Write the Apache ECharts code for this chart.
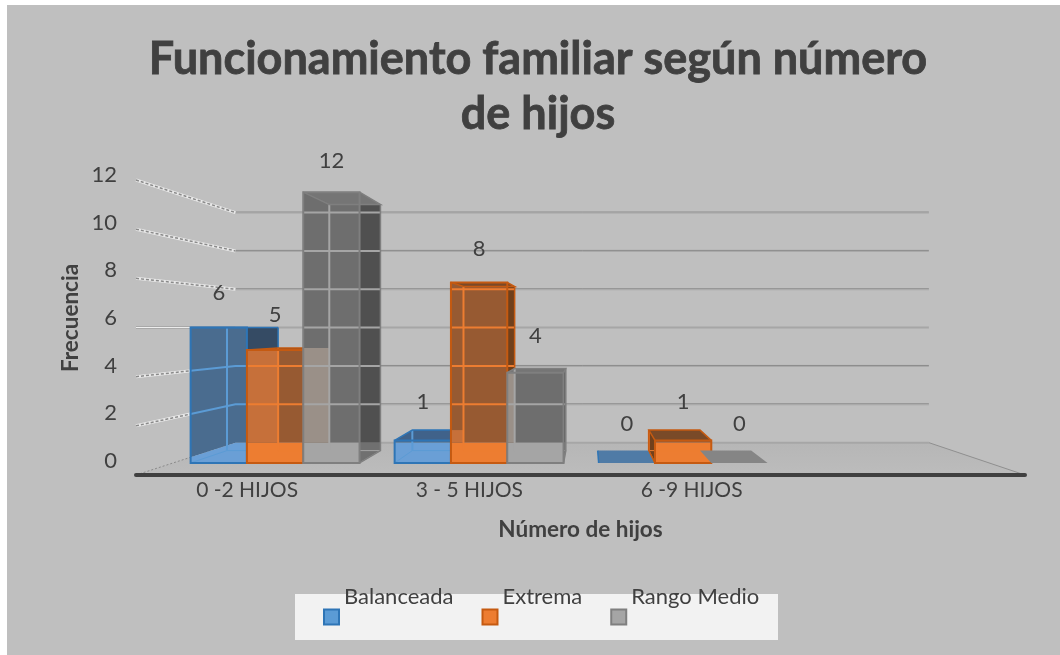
<!DOCTYPE html>
<html>
<head>
<meta charset="utf-8">
<title>Funcionamiento familiar</title>
<script src="https://cdn.jsdelivr.net/npm/echarts@6/dist/echarts.min.js"></script>
<style>
html,body{margin:0;padding:0;background:#fff;}
#chart{width:1060px;height:655px;}
</style>
</head>
<body>
<div id="chart"></div>
<script>
// datos
var categorias = ['0 -2 HIJOS', '3 - 5 HIJOS', '6 -9 HIJOS', ''];
var marcas = [0, 2, 4, 6, 8, 10, 12];
var balanceada = [6, 1, 0];
var extrema = [5, 8, 1];
var rangoMedio = [12, 4, 0];

var FUENTE = 'Lato';
var TEXTO = '#404040';

// perspectiva: punto de fuga y profundidad de cada plano
var VPX = 588, VPY = 328;
var S_FRENTE = 0.918, S_FONDO_BARRA = 0.834, S_PARED = 0.78, S_ETIQUETA = 0.89;
var ANCHO_BARRA = 0.276;

var colores = [
    {wall:'#4a6c8f', floor:'#6a9fd6', side:'#354b64', sideFloor:'#4a78a8', top:'#40628a', edge:'#2e75b6', line:'#5b9bd5', over:'#4a6c8f'},
    {wall:'#975a32', floor:'#ed7d31', side:'#70401c', sideFloor:'#a85a26', top:'#7a4a28', edge:'#c55a11', line:'#ed7d31', over:'#c6703a'},
    {wall:'#6e6e6e', floor:'#a5a5a5', side:'#505050', sideFloor:'#707070', top:'#757575', edge:'#7f7f7f', line:'#a5a5a5', over:'#9a9088'}
];
var topCero = ['#4f7ba6', '#7a4a28', '#858585'];
var valores = [balanceada, extrema, rangoMedio];

function px(x, s){ return VPX + (x - VPX) * s; }
function py(y, s){ return VPY + (y - VPY) * s; }

function poly(points, fill, z){
    return {type:'polygon', shape:{points:points}, style:{fill:fill}, z2:z || 0, silent:true};
}
function polyline(points, color, width, dash, z){
    return {type:'polyline', shape:{points:points}, style:{fill:null, stroke:color, lineWidth:width, lineDash:dash || null}, z2:z || 0, silent:true};
}

// borde superior del suelo en pantalla, para el x dado
function bordeSuelo(x, api){
    var c0 = api.coord([0, 0]);
    var band = api.size([1, 0])[0];
    var x0 = c0[0] - band / 2;
    var y0 = c0[1];
    var kx = px(x0, S_PARED), ky = py(y0, S_PARED);
    if (x >= kx) return {y:ky, kx:kx};
    return {y:y0 + (ky - y0) * (x - x0) / (kx - x0), kx:kx};
}

// paredes y suelo
function renderPared(params, api){
    var tick = api.value(0);
    var c = api.coord([0, tick]);
    var band = api.size([1, 0])[0];
    var x0 = c[0] - band / 2;
    var x1 = x0 + band * 4;
    var bx0 = px(x0, S_PARED), bx1 = px(x1, S_PARED), by = py(c[1], S_PARED);
    var hijos = [];
    if (tick === 0) {
        hijos.push({type:'polygon', shape:{points:[[x0, c[1]], [x1, c[1]], [bx1, by], [bx0, by]]},
            style:{fill:{type:'linear', x:0, y:0, x2:0, y2:1, colorStops:[{offset:0, color:'#b6b6b6'}, {offset:1, color:'#bcbcbc'}]}}, silent:true});
        hijos.push(polyline([[x1, c[1]], [bx1, by]], '#8f8f8f', 1));
    }
    var suave = tick === 6 || tick === 0;
    if (suave) {
        hijos.push(polyline([[bx0, by], [bx1, by]], '#a6a6a6', 2));
    } else {
        hijos.push(polyline([[bx0, by - 0.5], [bx1, by - 0.5]], '#8a8a8a', 1));
        hijos.push(polyline([[bx0, by + 0.5], [bx1, by + 0.5]], '#a8a8a8', 1));
    }
    if (tick === 0) {
        hijos.push(polyline([[x0, c[1]], [bx0, by]], '#8a8a8a', 1, [2, 2]));
    } else if (tick === 6) {
        hijos.push(polyline([[x0, c[1]], [bx0, by]], '#a0a0a0', 2.5));
        hijos.push(polyline([[x0, c[1]], [bx0, by]], '#efefef', 1));
    } else {
        hijos.push(polyline([[x0, c[1]], [bx0, by]], '#e8e8e8', 3));
        hijos.push(polyline([[x0, c[1]], [bx0, by]], '#8a8a8a', 1.5, [3, 2]));
    }
    return {type:'group', children:hijos};
}

// una barra 3D: plano frontal y plano trasero proyectados desde los ejes
function crearRender(idx){
    var col = colores[idx];
    return function(params, api){
        var cat = api.value(0), val = api.value(1);
        var base = api.coord([cat, 0]);
        var tope = api.coord([cat, val]);
        var band = api.size([1, 0])[0];
        var ancho = band * ANCHO_BARRA;
        var izq = base[0] + (idx - 1.5) * ancho;
        var der = izq + ancho;

        var fx0 = px(izq, S_FRENTE), fx1 = px(der, S_FRENTE);
        var fyT = py(tope[1], S_FRENTE), fyB = py(base[1], S_FRENTE);
        var bx0 = px(izq, S_FONDO_BARRA), bx1 = px(der, S_FONDO_BARRA);
        var byT = py(tope[1], S_FONDO_BARRA), byB = py(base[1], S_FONDO_BARRA);
        var hijos = [];

        // etiqueta de datos
        hijos.push({type:'text', z2:50, silent:true, style:{
            x:px(base[0] + (idx - 1) * ancho, S_FRENTE),
            y:py(tope[1], S_ETIQUETA) - 35,
            text:String(val), fill:TEXTO, font:'22px ' + FUENTE, align:'center', verticalAlign:'middle'
        }});

        if (val === 0) {
            hijos.push(poly([[fx0, fyB], [fx1, fyB], [bx1, byB], [bx0, byB]], topCero[idx]));
            if (idx === 0) hijos.push(polyline([[fx0, fyB], [bx0, byB]], col.edge, 1.5));
            return {type:'group', children:hijos};
        }

        var e0 = bordeSuelo(fx0, api), e1 = bordeSuelo(fx1, api);
        var kx = e0.kx, ky = bordeSuelo(kx, api).y;
        var y0 = Math.max(e0.y, fyT), y1 = Math.max(e1.y, fyT);
        var rodilla = fx0 < kx && kx < fx1;

        // cara lateral
        if (bx1 > fx1) {
            hijos.push(poly([[fx1, fyT], [bx1, byT], [bx1, ky], [fx1, ky]], col.side));
            hijos.push(poly([[fx1, ky], [bx1, ky], [bx1, byB], [fx1, fyB]], col.sideFloor));
        }
        if (bx0 < fx0) {
            hijos.push(poly([[bx0, byT], [fx0, fyT], [fx0, fyB], [bx0, byB]], col.side));
        }

        // cara frontal: parte sobre la pared y parte sobre el suelo
        var muro = [[fx0, fyT], [fx1, fyT], [fx1, y1]];
        var suelo = [[fx0, fyB], [fx1, fyB], [fx1, y1]];
        if (rodilla) { muro.push([kx, ky]); suelo.push([kx, ky]); }
        muro.push([fx0, y0]);
        suelo.push([fx0, y0]);
        hijos.push(poly(muro, col.wall));
        hijos.push(poly(suelo, col.floor));

        // zona que se cruza con la cara lateral de la barra vecina
        if (idx > 0) {
            var vecino = api.coord([cat, valores[idx - 1][cat]]);
            var vy = py(vecino[1], S_FONDO_BARRA);
            var oy = Math.max(fyT, vy);
            if (oy < ky && bx0 > fx0 && valores[idx - 1][cat] > 0) {
                hijos.push(poly([[fx0, oy], [bx0, oy], [bx0, ky], [fx0, ky]], col.over));
            }
        }

        // cara superior
        hijos.push(poly([[fx0, fyT], [fx1, fyT], [bx1, byT], [bx0, byT]], col.top));

        // lineas de la pared vistas a traves de la barra
        marcas.forEach(function(t){
            if (t === 0) return;
            var c = api.coord([0, t]);
            var wy = py(c[1], S_PARED);
            if (wy < Math.min(fyT, byT) + 2) return;
            var band0 = c[0] - band / 2;
            var pts = [];
            var fin = Math.max(fx1, bx1);
            var inicio = fx0;
            var yEn = function(x){
                if (x >= kx) return wy;
                return c[1] + (wy - c[1]) * (x - band0) / (kx - band0);
            };
            pts.push([inicio, yEn(inicio)]);
            if (inicio < kx && kx < fin) pts.push([kx, wy]);
            pts.push([fin, yEn(fin)]);
            hijos.push(polyline(pts, col.line, 2, null, 2));
        });

        // aristas traseras
        hijos.push(polyline([[bx0, byT], [bx0, byB]], col.line, 2, null, 2));
        hijos.push(polyline([[bx0, byB], [bx1, byB]], col.line, 1, null, 2));
        hijos.push(polyline([[fx0, fyB], [bx0, byB]], col.line, 1, null, 2));
        hijos.push(polyline([[fx1, fyB], [bx1, byB]], col.line, 1, null, 2));

        // aristas exteriores
        hijos.push(polyline([[fx0, fyT], [bx0, byT], [bx1, byT], [fx1, fyT]], col.edge, 1.5, null, 3));
        if (bx1 > fx1) hijos.push(polyline([[bx1, byT], [bx1, byB], [fx1, fyB]], col.edge, 1.5, null, 3));
        if (bx0 < fx0) hijos.push(polyline([[bx0, byT], [bx0, byB], [fx0, fyB]], col.edge, 1.5, null, 3));
        hijos.push({type:'rect', shape:{x:fx0, y:fyT, width:fx1 - fx0, height:fyB - fyT},
            style:{fill:null, stroke:col.edge, lineWidth:2}, z2:4, silent:true});

        return {type:'group', children:hijos};
    };
}

function datosSerie(arr){
    return arr.map(function(v, i){ return [i, v]; });
}
function serieBarra(nombre, arr, idx){
    return {
        name:nombre, type:'custom', coordinateSystem:'cartesian2d',
        xAxisIndex:0, yAxisIndex:0, clip:false,
        renderItem:crearRender(idx), data:datosSerie(arr), z:5 + idx,
        itemStyle:{color:idx === 0 ? '#5b9bd5' : colores[idx].floor, borderColor:colores[idx].edge, borderWidth:2}
    };
}

var myChart = echarts.init(document.getElementById('chart'));
var option = {
    animation:false,
    backgroundColor:'#fff',
    textStyle:{fontFamily:FUENTE},
    title:{
        text:'Funcionamiento familiar según número\nde hijos',
        left:533, top:27, textAlign:'center',
        textStyle:{fontFamily:FUENTE, fontSize:45, fontWeight:'bold', color:TEXTO, lineHeight:55, textBorderColor:TEXTO, textBorderWidth:0.8}
    },
    graphic:[
        {type:'rect', z:-10, silent:true, shape:{x:7, y:5, width:1053, height:650}, style:{fill:'#bfbfbf'}},
        {type:'rect', z:-9, silent:true, shape:{x:295, y:594, width:483, height:46}, style:{fill:'#f2f2f2'}}
    ],
    legend:{
        left:323, top:577, itemWidth:15, itemHeight:15, itemGap:28, padding:0,
        icon:'rect', selectedMode:false,
        formatter:function(nombre){ return nombre + '\n '; },
        textStyle:{fontFamily:FUENTE, fontSize:22, color:TEXTO, lineHeight:40},
        data:['Balanceada', 'Extrema', 'Rango Medio']
    },
    grid:[
        {left:136, width:889, top:180, height:295},
        {left:125, width:1, top:175, height:286}
    ],
    xAxis:[
        {
            type:'category', gridIndex:0, data:categorias, z:20,
            axisTick:{show:false},
            axisLine:{lineStyle:{color:'#404040', width:4, cap:'round'}},
            axisLabel:{color:TEXTO, fontSize:21, fontFamily:FUENTE, margin:5, interval:0},
            name:'Número de hijos', nameLocation:'middle', nameGap:43,
            nameTextStyle:{color:TEXTO, fontSize:22.5, fontWeight:'bold', fontFamily:FUENTE}
        },
        {type:'category', gridIndex:1, data:categorias, show:false}
    ],
    yAxis:[
        {type:'value', gridIndex:0, min:0, max:12, interval:2, show:false},
        {
            type:'value', gridIndex:1, min:0, max:12, interval:2,
            axisLine:{show:false}, axisTick:{show:false}, splitLine:{show:false},
            axisLabel:{color:TEXTO, fontSize:22, fontFamily:FUENTE, margin:8},
            name:'Frecuencia', nameLocation:'middle', nameGap:43, nameRotate:90,
            nameTextStyle:{color:TEXTO, fontSize:22.5, fontWeight:'bold', fontFamily:FUENTE}
        }
    ],
    series:[
        {
            type:'custom', name:'pared', coordinateSystem:'cartesian2d', xAxisIndex:0, yAxisIndex:0,
            clip:false, z:1, renderItem:renderPared, encode:{y:0},
            data:marcas.map(function(t){ return [t]; })
        },
        serieBarra('Balanceada', balanceada, 0),
        serieBarra('Extrema', extrema, 1),
        serieBarra('Rango Medio', rangoMedio, 2)
    ]
};
myChart.setOption(option);
</script>
</body>
</html>
